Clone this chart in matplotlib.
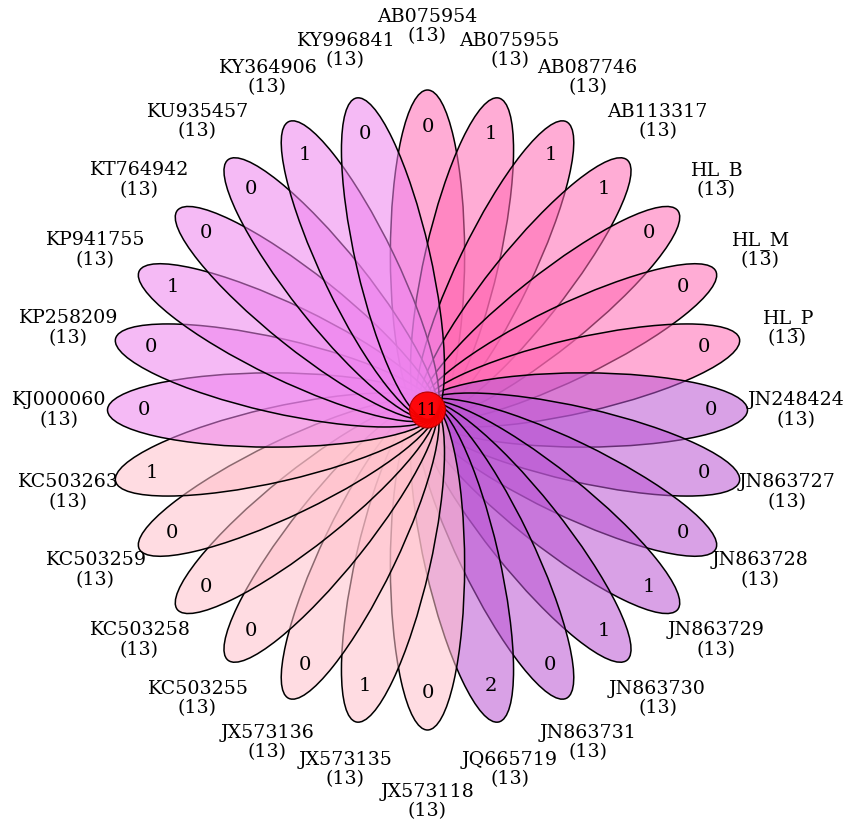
import numpy as np
import matplotlib
matplotlib.use("Agg")
import matplotlib.pyplot as plt
from matplotlib.patches import Ellipse, Circle

# ---- data ----
samples = ["AB075954", "AB075955", "AB087746", "AB113317", "HL_B", "HL_M", "HL_P",
           "JN248424", "JN863727", "JN863728", "JN863729", "JN863730", "JN863731", "JQ665719",
           "JX573118", "JX573135", "JX573136", "KC503255", "KC503258", "KC503259", "KC503263",
           "KJ000060", "KP258209", "KP941755", "KT764942", "KU935457", "KY364906", "KY996841"]
unique_counts = [0, 1, 1, 1, 0, 0, 0,
                 0, 0, 0, 1, 1, 0, 2,
                 0, 1, 0, 0, 0, 0, 1,
                 0, 0, 1, 0, 0, 1, 0]
total_counts = [13] * 28
core_count = 11
group_colors = ["hotpink", "mediumorchid", "pink", "violet"]

# ---- figure ----
W, H = 845, 822
fig = plt.figure(figsize=(W / 100, H / 100), dpi=100)
ax = fig.add_axes([0, 0, 1, 1])
R = 320.0          # petal tip radius in px
cx, cy = 427.5, 412.0
ax.set_xlim(-cx / R, (W - cx) / R)
ax.set_ylim(-cy / R, (H - cy) / R)
ax.axis("off")

n = len(samples)
step = 360.0 / n
semi_major = 0.515
semi_minor = 0.116
ell_center = 1.0 - semi_major
font = "DejaVu Serif"
group_size = n // len(group_colors)

for i, (name, u, t) in enumerate(zip(samples, unique_counts, total_counts)):
    ang = 90 - i * step
    th = np.radians(ang)
    color = matplotlib.colors.to_rgba(group_colors[min(i // group_size, len(group_colors) - 1)], 0.55)
    e = Ellipse((ell_center * np.cos(th), ell_center * np.sin(th)),
                width=2 * semi_major, height=2 * semi_minor, angle=ang,
                facecolor=color, edgecolor="black", linewidth=1.1, zorder=2 + i * 0.01)
    ax.add_patch(e)
    rn = 0.885
    ax.text(rn * np.cos(th), rn * np.sin(th), str(u), ha="center", va="center",
            fontsize=14, family=font, zorder=5)
    rl = 1.153
    if abs(np.cos(th)) < 0.05:
        rl += 0.045 if np.sin(th) > 0 else 0.07
    ax.text(rl * np.cos(th), rl * np.sin(th), f"{name}\n({t})", ha="center", va="center",
            fontsize=13.7, family=font, linespacing=1.1, zorder=5)

c = Circle((0, 0), 18 / R, facecolor="red", edgecolor="#b00000", linewidth=0.8, alpha=0.95, zorder=10)
ax.add_patch(c)
ax.text(0, 0, str(core_count), ha="center", va="center", fontsize=12, family=font, zorder=11)

fig.savefig("out.png", dpi=100)
